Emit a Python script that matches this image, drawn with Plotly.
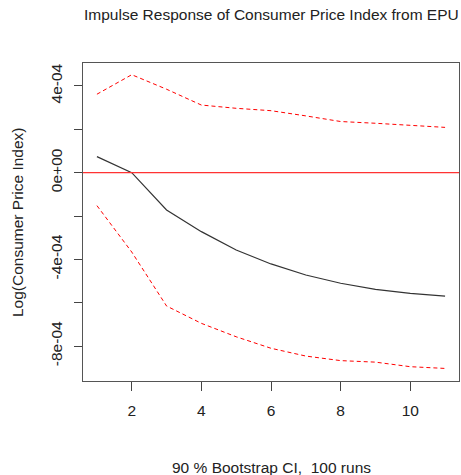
import plotly.graph_objects as go

steps = [1, 2, 3, 4, 5, 6, 7, 8, 9, 10, 11]
irf = [0.74e-4, 0.0, -1.72e-4, -2.72e-4, -3.57e-4, -4.21e-4, -4.72e-4, -5.10e-4, -5.38e-4, -5.57e-4, -5.69e-4]
upper = [3.62e-4, 4.52e-4, 3.85e-4, 3.12e-4, 2.97e-4, 2.86e-4, 2.62e-4, 2.36e-4, 2.28e-4, 2.20e-4, 2.09e-4]
lower = [-1.52e-4, -3.66e-4, -6.15e-4, -6.95e-4, -7.57e-4, -8.10e-4, -8.46e-4, -8.67e-4, -8.74e-4, -8.95e-4, -9.03e-4]
ytick_vals = [4e-4, 2e-4, 0, -2e-4, -4e-4, -6e-4, -8e-4]
ytick_text = ["4e-04", "", "0e+00", "", "-4e-04", "", "-8e-04"]
xtick_vals = [2, 4, 6, 8, 10]

FONT = "Liberation Sans, Arial, sans-serif"
TXT = "#222222"
FS = 15.5

fig = go.Figure()
fig.add_trace(go.Scatter(x=steps, y=irf, mode="lines",
                         line=dict(color="#333333", width=1.2), showlegend=False))
fig.add_trace(go.Scatter(x=steps, y=upper, mode="lines",
                         line=dict(color="red", width=1, dash="4px,3px"), showlegend=False))
fig.add_trace(go.Scatter(x=steps, y=lower, mode="lines",
                         line=dict(color="red", width=1, dash="4px,3px"), showlegend=False))
fig.add_shape(type="line", xref="paper", x0=0, x1=1, yref="y", y0=0, y1=0,
              line=dict(color="#ff3333", width=1.2))

fig.update_layout(
    width=461, height=475,
    margin=dict(l=83, r=2, t=63, b=94),
    paper_bgcolor="white", plot_bgcolor="white",
    font=dict(family=FONT, color=TXT, size=FS),
    xaxis=dict(range=[0.6, 11.4], tickvals=xtick_vals, ticks="outside", ticklen=9,
               tickcolor="#444", showline=True, linecolor="#555", linewidth=1,
               mirror=True, showgrid=False, zeroline=False, automargin=False,
               ticklabelstandoff=6,
               tickfont=dict(size=FS, family=FONT, color=TXT)),
    yaxis=dict(range=[-9.61e-4, 5.06e-4], tickvals=ytick_vals, ticktext=ytick_text,
               ticks="outside", ticklen=8, tickcolor="#444", tickangle=-90,
               showline=True, linecolor="#555", linewidth=1, mirror=True,
               showgrid=False, zeroline=False, automargin=False,
               ticklabelstandoff=6,
               tickfont=dict(size=FS, family=FONT, color=TXT)),
    annotations=[
        dict(text="Impulse Response of Consumer Price Index from EPU", xref="paper", yref="paper",
             x=0.5, y=1, yshift=49, showarrow=False, xanchor="center", yanchor="middle",
             font=dict(size=FS, family=FONT, color=TXT)),
        dict(text="Log(Consumer Price Index)", xref="paper", yref="paper",
             x=0, xshift=-66, y=0.5, showarrow=False, textangle=-90,
             xanchor="center", yanchor="middle",
             font=dict(size=FS, family=FONT, color=TXT)),
        dict(text="90 % Bootstrap CI,  100 runs", xref="paper", yref="paper",
             x=0.5, y=0, yshift=-86, showarrow=False, xanchor="center", yanchor="middle",
             font=dict(size=FS, family=FONT, color=TXT)),
    ],
)

fig.write_html("out.html", config={"displayModeBar": False},
               post_script="document.body.style.margin='0';document.body.style.overflow='hidden';")
